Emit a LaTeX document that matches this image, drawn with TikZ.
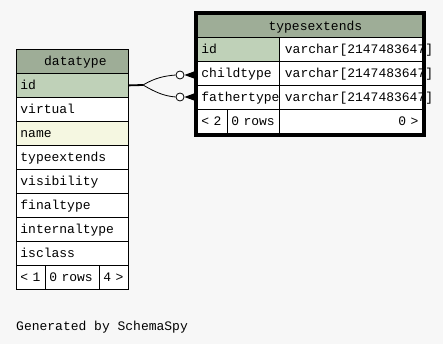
\documentclass[tikz,border=0pt]{standalone}
\usepackage{fontspec}
\newfontfamily\schemafont{Liberation Mono}
\usetikzlibrary{positioning,calc,fit}
\definecolor{Paper}{HTML}{F7F7F7}
\definecolor{HeadFill}{HTML}{9EAD97}
\definecolor{KeyFill}{HTML}{BFD1B8}
\definecolor{IndexFill}{HTML}{F5F7E1}

\begin{document}
\begin{tikzpicture}[x=1pt,y=-1pt,
  cell/.style={draw=black,line width=0.8pt,anchor=north west,minimum height=24pt,
    inner xsep=4pt,inner ysep=0pt,text height=10.5pt,text depth=2pt,
    font=\schemafont\fontsize{13}{13}\selectfont,align=left,fill=white},
  headcell/.style={cell,fill=HeadFill,align=center},
  keycell/.style={cell,fill=KeyFill},
  indexcell/.style={cell,fill=IndexFill},
  fkend/.style={circle,draw=black,fill=white,line width=0.8pt,minimum size=8pt,inner sep=0pt},
  link/.style={draw=black,line width=0.8pt}]
\useasboundingbox (0,0) rectangle (443,344);
\fill[Paper] (0,0) rectangle (443,344);

% datatype
\node[headcell,text width=104pt] (dt-head) at (16,49) {\hspace*{6pt}datatype};
\node[keycell,text width=104pt] (dt-id) at (16,73) {id};
\node[cell,text width=104pt] (dt-virtual) at (16,97) {virtual};
\node[indexcell,text width=104pt] (dt-name) at (16,121) {name};
\node[cell,text width=104pt] (dt-typeext) at (16,145) {typeextends};
\node[cell,text width=104pt] (dt-vis) at (16,169) {visibility};
\node[cell,text width=104pt] (dt-final) at (16,193) {finaltype};
\node[cell,text width=104pt] (dt-internal) at (16,217) {internaltype};
\node[cell,text width=104pt] (dt-isclass) at (16,241) {isclass};
\node[cell,text width=21pt] (dt-prev) at (16,265) {< 1};
\node[cell,text width=46pt] (dt-rows) at (45,265) {0 rows};
\node[cell,text width=21pt] (dt-next) at (99,265) {4 >};

% typesextends
\node[headcell,text width=217pt,minimum height=23pt] (te-head) at (197,14) {\hspace*{11pt}typesextends};
\node[keycell,text width=74pt] (te-id) at (197,37) {id};
\node[cell,text width=135pt] (te-id-type) at (279,37) {\mbox{\hspace*{1.5pt}varchar[2147483647]}};
\node[cell,text width=74pt] (te-child) at (197,61) {childtype};
\node[cell,text width=135pt] (te-child-type) at (279,61) {\mbox{\hspace*{1.5pt}varchar[2147483647]}};
\node[cell,text width=74pt] (te-father) at (197,85) {fathertype};
\node[cell,text width=135pt] (te-father-type) at (279,85) {\mbox{\hspace*{1.5pt}varchar[2147483647]}};
\node[cell,text width=22pt] (te-prev) at (197,109) {< 2};
\node[cell,text width=44pt] (te-rows) at (227,109) {0 rows};
\node[cell,text width=135pt,align=right] (te-next) at (279,109) {0 >};
\node[draw=black,line width=3pt,inner sep=1.5pt,fit=(te-head)(te-next)] (te-frame) {};

% foreign keys
\coordinate (split) at (143,85);
\node[fkend] (child-end) at (180,75) {};
\node[fkend] (father-end) at (180,97) {};
\draw[link,line width=1.8pt] (dt-id.east) -- (split);
\draw[link] (split) .. controls +(12,-7) and +(-12,1) .. (child-end.west);
\draw[link] (split) .. controls +(12,7) and +(-12,-1) .. (father-end.west);
\fill (child-end.east) -- ++(9.5,-3.5) -- ++(0,7) -- cycle;
\fill (father-end.east) -- ++(9.5,-3.5) -- ++(0,7) -- cycle;

\node[anchor=base west,inner sep=0pt,font=\schemafont\fontsize{13}{13}\selectfont] (credit) at (16,330) {Generated by SchemaSpy};
\end{tikzpicture}
\end{document}
